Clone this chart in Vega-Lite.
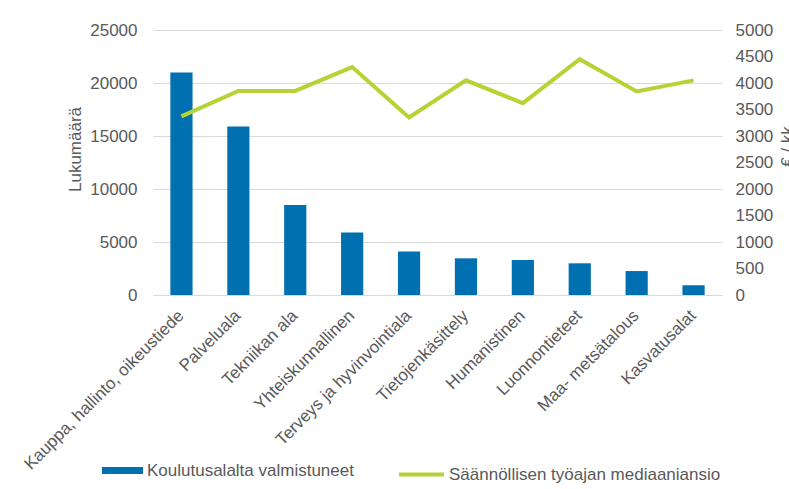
{
  "$schema": "https://vega.github.io/schema/vega-lite/v6.json",
  "width": 569,
  "height": 265,
  "autosize": "none",
  "padding": {"left": 153, "top": 30, "right": 67, "bottom": 194},
  "background": "white",
  "config": {
    "font": "Liberation Sans",
    "view": {"stroke": null}
  },
  "data": {
    "values": [
      {"ala": "Kauppa, hallinto, oikeustiede", "lkm": 21000, "ansio": 3370},
      {"ala": "Palveluala", "lkm": 15900, "ansio": 3850},
      {"ala": "Tekniikan ala", "lkm": 8500, "ansio": 3850},
      {"ala": "Yhteiskunnallinen", "lkm": 5900, "ansio": 4300},
      {"ala": "Terveys ja hyvinvointiala", "lkm": 4100, "ansio": 3350},
      {"ala": "Tietojenkäsittely", "lkm": 3460, "ansio": 4050},
      {"ala": "Humanistinen", "lkm": 3300, "ansio": 3620},
      {"ala": "Luonnontieteet", "lkm": 2990, "ansio": 4450},
      {"ala": "Maa- metsätalous", "lkm": 2260, "ansio": 3840},
      {"ala": "Kasvatusalat", "lkm": 920, "ansio": 4050}
    ]
  },
  "encoding": {
    "x": {
      "field": "ala",
      "type": "nominal",
      "sort": null,
      "scale": {"paddingInner": 0.61, "paddingOuter": 0.305},
      "axis": {
        "title": null,
        "labelAngle": -45,
        "labelFontSize": 17,
        "labelColor": "#595959",
        "ticks": false,
        "domainColor": "#d9d9d9",
        "labelPadding": 12,
        "labelOffset": -6,
        "labelLimit": 400
      }
    }
  },
  "layer": [
    {
      "mark": {"type": "bar", "color": "#0070b0"},
      "encoding": {
        "y": {
          "field": "lkm",
          "type": "quantitative",
          "scale": {"domain": [0, 25000]},
          "axis": {
            "title": "Lukumäärä",
            "values": [0, 5000, 10000, 15000, 20000, 25000],
            "format": "d",
            "grid": true,
            "gridColor": "#d9d9d9",
            "domain": false,
            "ticks": false,
            "labelPadding": 16,
            "labelFontSize": 17,
            "labelColor": "#595959",
            "titleFontSize": 17,
            "titleFontWeight": "normal",
            "titleColor": "#595959",
            "titleX": -78,
            "titleY": 119,
            "titleAlign": "center",
            "titleBaseline": "middle",
            "titleAngle": -90
          }
        },
        "fill": {
          "datum": "Koulutusalalta valmistuneet",
          "type": "nominal",
          "scale": {"range": ["#0070b0"]},
          "legend": {
            "orient": "none",
            "legendX": -51,
            "legendY": 420,
            "title": null,
            "padding": 0,
            "symbolType": "M-1,-0.17L1,-0.17L1,0.17L-1,0.17Z",
            "symbolSize": 1681,
            "symbolStrokeWidth": 0,
            "labelFontSize": 17,
            "labelColor": "#595959",
            "labelOffset": 4,
            "labelLimit": 400
          }
        }
      }
    },
    {
      "mark": {"type": "line", "strokeWidth": 4, "color": "#b5d334"},
      "encoding": {
        "y": {
          "field": "ansio",
          "type": "quantitative",
          "scale": {"domain": [0, 5000]},
          "axis": {
            "orient": "right",
            "title": "€ / kk",
            "values": [0, 500, 1000, 1500, 2000, 2500, 3000, 3500, 4000, 4500, 5000],
            "format": "d",
            "grid": false,
            "domain": false,
            "ticks": false,
            "labelPadding": 13,
            "labelFontSize": 17,
            "labelColor": "#595959",
            "titleFontSize": 17,
            "titleFontWeight": "normal",
            "titleColor": "#595959",
            "titleX": 65,
            "titleY": 116,
            "titleAlign": "center",
            "titleBaseline": "middle",
            "titleAngle": 270
          }
        },
        "stroke": {
          "datum": "Säännöllisen työajan mediaaniansio",
          "type": "nominal",
          "scale": {"range": ["#b5d334"]},
          "legend": {
            "orient": "none",
            "legendX": 244,
            "legendY": 420,
            "title": null,
            "padding": 0,
            "symbolType": "stroke",
            "symbolSize": 2025,
            "symbolStrokeWidth": 4,
            "labelFontSize": 17,
            "labelColor": "#595959",
            "labelOffset": 3,
            "labelLimit": 400
          }
        }
      }
    }
  ],
  "resolve": {"scale": {"y": "independent"}}
}
